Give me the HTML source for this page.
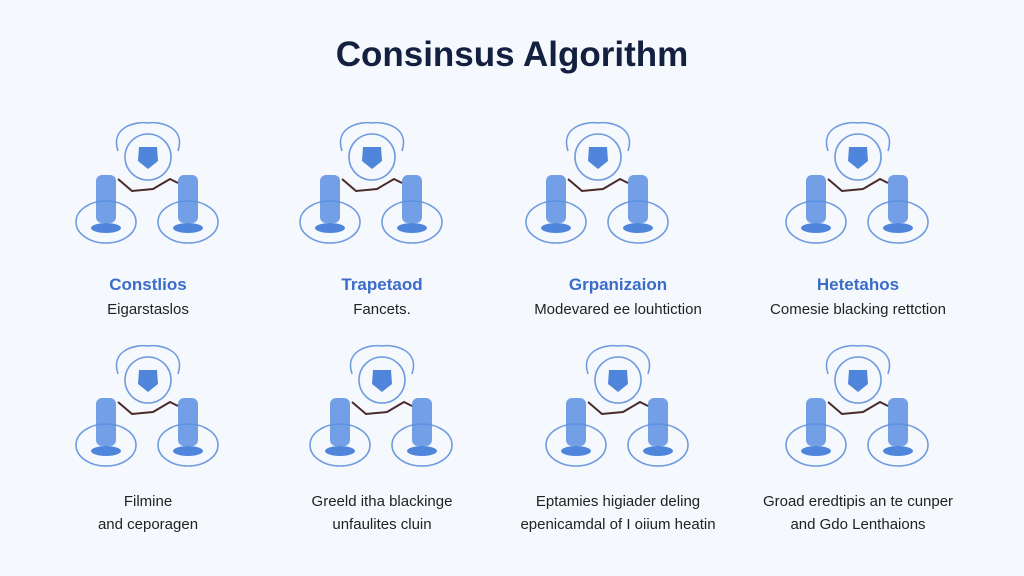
<!DOCTYPE html>
<html><head><style>
body{margin:0;width:1024px;height:576px;background:#f5f8fc;font-family:"Liberation Sans",sans-serif;overflow:hidden;position:relative}
.t{position:absolute;width:100%;text-align:center;top:35px;font-size:35px;font-weight:bold;color:#13203f}
.l{position:absolute;width:260px;margin-left:-130px;text-align:center;font-size:15px;color:#222}
.h{color:#3a6cc8;font-size:17px;font-weight:bold}
</style></head><body>
<div class="t">Consinsus Algorithm</div>
<svg width="1024" height="576" style="position:absolute;left:0;top:0">
<defs>
<g id="f">
<path d="M-30,-4 C-38,-28 -12,-34 0,-32 C12,-34 38,-28 30,-4" fill="none" stroke="#6f9be0" stroke-width="1.6"/>
<circle cx="0" cy="2" r="23" fill="#f5f8fc" stroke="#6f9be0" stroke-width="1.6"/>
<path d="M-9,-8 L9,-8 L10,6 L0,14 L-10,6Z" fill="#4f86dc"/>
<ellipse cx="-42" cy="67" rx="30" ry="21" fill="none" stroke="#6f9be0" stroke-width="1.6"/>
<ellipse cx="40" cy="67" rx="30" ry="21" fill="none" stroke="#6f9be0" stroke-width="1.6"/>
<ellipse cx="-42" cy="73" rx="15" ry="5" fill="#4f86dc"/>
<ellipse cx="40" cy="73" rx="15" ry="5" fill="#4f86dc"/>
<rect x="-52" y="20" width="20" height="48" rx="6" fill="#5b8fe0" opacity=".85"/>
<rect x="30" y="20" width="20" height="48" rx="6" fill="#5b8fe0" opacity=".85"/>
<path d="M-30,24 L-16,36 L5,34 L22,24 L30,28" fill="none" stroke="#4a2a2a" stroke-width="2"/>
</g>
</defs>
<use href="#f" x="148" y="155"/>
<use href="#f" x="372" y="155"/>
<use href="#f" x="598" y="155"/>
<use href="#f" x="858" y="155"/>
<use href="#f" x="148" y="378"/>
<use href="#f" x="382" y="378"/>
<use href="#f" x="618" y="378"/>
<use href="#f" x="858" y="378"/>
</svg>
<div class="l h" style="left:148px;top:275px">Constlios</div>
<div class="l" style="left:148px;top:301px">Eigarstaslos</div>
<div class="l h" style="left:382px;top:275px">Trapetaod</div>
<div class="l" style="left:382px;top:301px">Fancets.</div>
<div class="l h" style="left:618px;top:275px">Grpanizaion</div>
<div class="l" style="left:618px;top:301px">Modevared ee louhtiction</div>
<div class="l h" style="left:858px;top:275px">Hetetahos</div>
<div class="l" style="left:858px;top:301px">Comesie blacking rettction</div>
<div class="l" style="left:148px;top:490px;line-height:23px">Filmine<br>and ceporagen</div>
<div class="l" style="left:382px;top:490px;line-height:23px">Greeld itha blackinge<br>unfaulites cluin</div>
<div class="l" style="left:618px;top:490px;line-height:23px">Eptamies higiader deling<br>epenicamdal of I oiium heatin</div>
<div class="l" style="left:858px;top:490px;line-height:23px">Groad eredtipis an te cunper<br>and Gdo Lenthaions</div>
</body></html>
